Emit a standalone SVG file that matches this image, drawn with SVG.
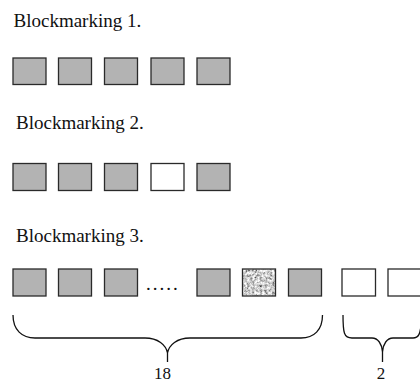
<svg xmlns="http://www.w3.org/2000/svg" width="420" height="383" viewBox="0 0 420 383">
  <style>
    .lbl { font-family: "Liberation Serif", "Times New Roman", serif; font-size: 19px; fill: #111; }
    .num { font-family: "Liberation Serif", "Times New Roman", serif; font-size: 17px; fill: #111; text-anchor: middle; }
    .g { fill: #b3b3b3; stroke: #2a2a2a; stroke-width: 1.3; }
    .w { fill: #ffffff; stroke: #2a2a2a; stroke-width: 1.3; }
    .brace { fill: none; stroke: #111; stroke-width: 1.3; }
  </style>
  <defs>
    <filter id="noise" x="0" y="0" width="100%" height="100%">
      <feTurbulence type="fractalNoise" baseFrequency="0.4" numOctaves="3" seed="5" result="n"/>
      <feColorMatrix in="n" type="matrix" values="1.6 0 0 0 -0.18  1.6 0 0 0 -0.18  1.6 0 0 0 -0.18  0 0 0 0 1" result="gn"/>
      <feComposite in="gn" in2="SourceGraphic" operator="in"/>
    </filter>
  </defs>
  <rect width="420" height="383" fill="#ffffff"/>

  <g id="title1"><text class="lbl" x="13.5" y="27">Blockmarking 1.</text></g>
  <g id="row1">
    <g id="r1b1"><rect class="g" x="13" y="58" width="33" height="26.5"/></g>
    <g id="r1b2"><rect class="g" x="58.5" y="58" width="33" height="26.5"/></g>
    <g id="r1b3"><rect class="g" x="104.5" y="58" width="33" height="26.5"/></g>
    <g id="r1b4"><rect class="g" x="151" y="58" width="33" height="26.5"/></g>
    <g id="r1b5"><rect class="g" x="197" y="58" width="33" height="26.5"/></g>
  </g>

  <g id="title2"><text class="lbl" x="16" y="129">Blockmarking 2.</text></g>
  <g id="row2">
    <g id="r2b1"><rect class="g" x="13" y="163.5" width="33" height="27"/></g>
    <g id="r2b2"><rect class="g" x="58.5" y="163.5" width="33" height="27"/></g>
    <g id="r2b3"><rect class="g" x="104.5" y="163.5" width="33" height="27"/></g>
    <g id="r2b4"><rect class="w" x="151" y="163.5" width="33" height="27"/></g>
    <g id="r2b5"><rect class="g" x="197" y="163.5" width="33" height="27"/></g>
  </g>

  <g id="title3"><text class="lbl" x="16" y="242">Blockmarking 3.</text></g>
  <g id="row3">
    <g id="r3b1"><rect class="g" x="13" y="269" width="33" height="27"/></g>
    <g id="r3b2"><rect class="g" x="58.5" y="269" width="33" height="27"/></g>
    <g id="r3b3"><rect class="g" x="104.5" y="269" width="33" height="27"/></g>
    <g id="r3dots"><text class="lbl" x="146" y="289.5" letter-spacing="2">.....</text></g>
    <g id="r3b4"><rect class="g" x="197" y="269" width="33" height="27"/></g>
    <g id="r3b5">
      <rect x="242.5" y="269" width="33" height="27" fill="#aaa" filter="url(#noise)"/>
      <rect x="242.5" y="269" width="33" height="27" fill="none" stroke="#2a2a2a" stroke-width="1.3"/>
    </g>
    <g id="r3b6"><rect class="g" x="288.5" y="269" width="33" height="27"/></g>
    <g id="r3b7"><rect class="w" x="342" y="269" width="33.5" height="27"/></g>
    <g id="r3b8"><rect class="w" x="388" y="269" width="34" height="27"/></g>
  </g>

  <g id="connectors">
    <path class="brace" d="M13,315 C13,330 22,338 35,338 L145,338 C158,338 166,345 167.5,353 L167.5,362 M167.5,353 C169,345 177,338 190,338 L301,338 C314,338 322.5,330 322.5,315"/>
    <path class="brace" d="M343,315 C343,333 344,338 352,338 L372,338 C378,338 382,344 382.5,352 L382.5,362 M382.5,352 C383,344 387,338 393,338 L413,338 C419,338 420,333 421,326"/>
  </g>

  <g id="label18"><text class="num" x="162.5" y="378.5">18</text></g>
  <g id="label2"><text class="num" x="381" y="378.5">2</text></g>
</svg>
